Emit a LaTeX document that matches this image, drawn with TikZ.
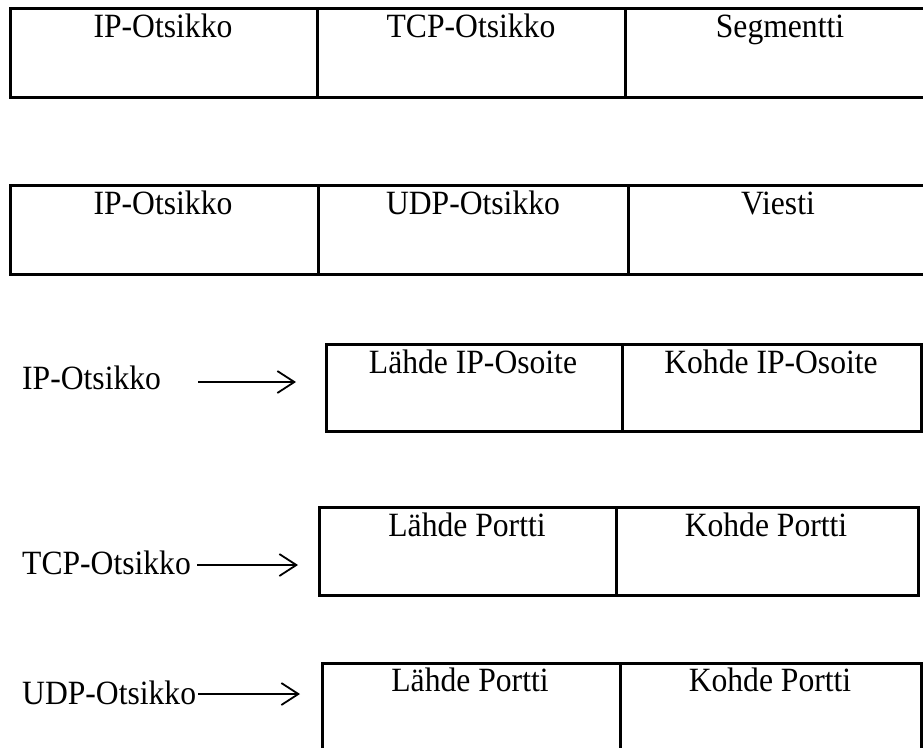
\documentclass[tikz,border=0pt]{standalone}
\usepackage{fontspec}
\setmainfont{Liberation Serif}
\newfontfamily\tallserif[FakeStretch=0.93]{Liberation Serif}
\usetikzlibrary{arrows.meta}
\tikzset{
  frame/.style={draw, line width=3pt, rectangle, inner sep=0pt, anchor=north west},
  divider/.style={line width=3pt},
  txt/.style={inner sep=0pt, anchor=base, font=\tallserif\fontsize{34}{40}\selectfont},
  lbl/.style={inner sep=0pt, anchor=base west, font=\tallserif\fontsize{34}{40}\selectfont},
  arr/.style={line width=1.8pt, -{Straight Barb[length=17pt, width=22pt, line width=1.8pt]}}
}
\begin{document}
\begin{tikzpicture}[x=1pt, y=-1pt]
\clip (0,0) rectangle (923,747);
\fill[white] (0,0) rectangle (923,747);

% TCP packet
\node[frame, minimum width=926pt, minimum height=89pt] (tcppkt) at (9,7) {};
\draw[divider] (tcppkt.north -| 317,0) -- (tcppkt.south -| 317,0);
\draw[divider] (tcppkt.north -| 625,0) -- (tcppkt.south -| 625,0);
\node[txt] (t1) at (163,37) {IP-Otsikko};
\node[txt] (t2) at (471,37) {TCP-Otsikko};
\node[txt] (t3) at (780,37) {Segmentti};

% UDP packet
\node[frame, minimum width=919pt, minimum height=89pt] (udppkt) at (9,184) {};
\draw[divider] (udppkt.north -| 318,0) -- (udppkt.south -| 318,0);
\draw[divider] (udppkt.north -| 628,0) -- (udppkt.south -| 628,0);
\node[txt] (u1) at (163,214) {IP-Otsikko};
\node[txt] (u2) at (473,214) {UDP-Otsikko};
\node[txt] (u3) at (778,214) {Viesti};

% IP header
\node[frame, minimum width=595pt, minimum height=87pt] (iphdr) at (325,343) {};
\draw[divider] (iphdr.north -| 622,0) -- (iphdr.south -| 622,0);
\node[txt] (i1) at (473,373) {Lähde IP-Osoite};
\node[txt] (i2) at (771,373) {Kohde IP-Osoite};
\node[lbl] (iplab) at (22,389) {IP-Otsikko};

% TCP header
\node[frame, minimum width=599pt, minimum height=88pt] (tcphdr) at (318,506) {};
\draw[divider] (tcphdr.north -| 616,0) -- (tcphdr.south -| 616,0);
\node[txt] (c1) at (467,536) {Lähde Portti};
\node[txt] (c2) at (766,536) {Kohde Portti};
\node[lbl] (tcplab) at (22,574) {TCP-Otsikko};

% UDP header
\node[frame, minimum width=599pt, minimum height=98pt] (udphdr) at (321,662) {};
\draw[divider] (udphdr.north -| 620,0) -- (udphdr.south -| 620,0);
\node[txt] (d1) at (470,691) {Lähde Portti};
\node[txt] (d2) at (770,691) {Kohde Portti};
\node[lbl] (udplab) at (22,704) {UDP-Otsikko};

% arrows from labels to headers
\draw[arr, shorten <=37pt, shorten >=29pt]
  ([yshift=7pt]iplab.base east) -- ([yshift=7pt]iplab.base east -| iphdr.west);
\draw[arr, shorten <=6pt, shorten >=20pt]
  ([yshift=9pt]tcplab.base east) -- ([yshift=9pt]tcplab.base east -| tcphdr.west);
\draw[arr, shorten <=2pt, shorten >=21pt]
  ([yshift=10pt]udplab.base east) -- ([yshift=10pt]udplab.base east -| udphdr.west);
\end{tikzpicture}
\end{document}
